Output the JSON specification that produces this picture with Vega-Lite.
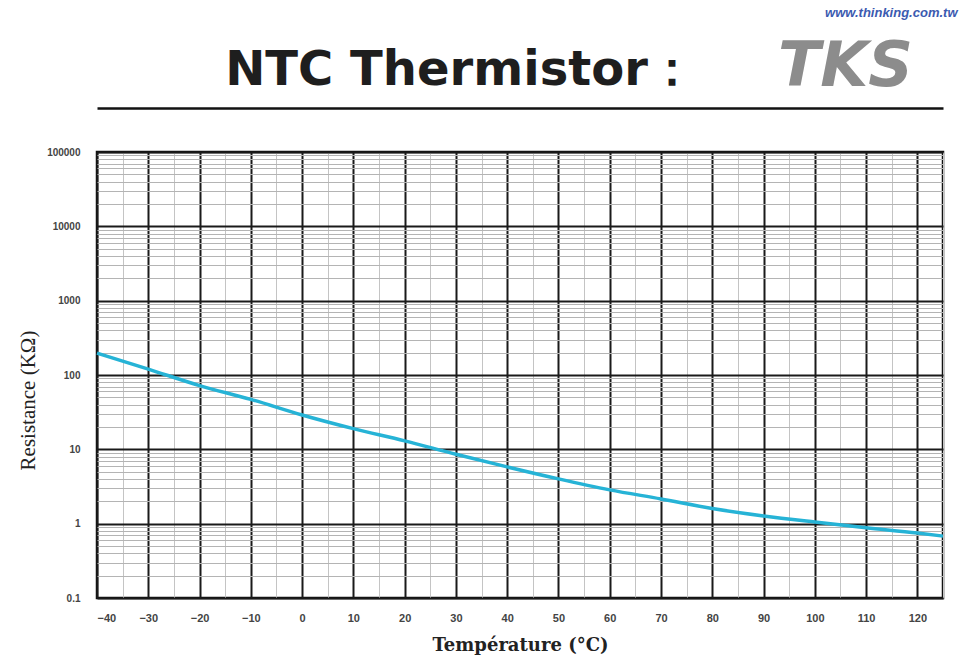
{
  "$schema": "https://vega.github.io/schema/vega-lite/v6.json",
  "width": 846,
  "height": 446,
  "autosize": "none",
  "padding": {"left": 97, "top": 152, "right": 24, "bottom": 62},
  "background": "white",
  "config": {"view": {"stroke": "#111", "strokeWidth": 2.5}},
  "data": {"values": [
    {"temp": -40, "res": 197},
    {"temp": -30, "res": 120},
    {"temp": -20, "res": 72},
    {"temp": -10, "res": 47},
    {"temp": 0, "res": 29},
    {"temp": 10, "res": 19},
    {"temp": 20, "res": 13},
    {"temp": 30, "res": 8.6},
    {"temp": 40, "res": 5.8},
    {"temp": 50, "res": 4.0},
    {"temp": 60, "res": 2.85},
    {"temp": 70, "res": 2.15},
    {"temp": 80, "res": 1.6},
    {"temp": 90, "res": 1.27},
    {"temp": 100, "res": 1.05},
    {"temp": 110, "res": 0.88},
    {"temp": 120, "res": 0.75},
    {"temp": 125, "res": 0.68}
  ]},
  "layer": [
    {
      "mark": {"type": "line", "opacity": 0},
      "encoding": {
        "x": {"field": "temp", "type": "quantitative",
          "scale": {"domain": [-40, 125], "nice": false, "zero": false},
          "axis": {"orient": "bottom", "values": [-35, -25, -15, -5, 5, 15, 25, 35, 45, 55, 65, 75, 85, 95, 105, 115, 125],
            "grid": true, "gridColor": "#c4c4c4", "gridWidth": 1, "labels": false, "ticks": false, "domain": false, "title": null}},
        "y": {"field": "res", "type": "quantitative",
          "scale": {"type": "log", "domain": [0.1, 100000], "nice": false},
          "axis": {"orient": "left", "values": [0.2,0.3,0.4,0.5,0.6,0.7,0.8,0.9,2,3,4,5,6,7,8,9,20,30,40,50,60,70,80,90,200,300,400,500,600,700,800,900,2000,3000,4000,5000,6000,7000,8000,9000,20000,30000,40000,50000,60000,70000,80000,90000],
            "grid": true, "gridColor": "#b4b4b4", "gridWidth": 1, "labels": false, "ticks": false, "domain": false, "title": null}}
      }
    },
    {
      "mark": {"type": "line", "opacity": 0},
      "encoding": {
        "x": {"field": "temp", "type": "quantitative",
          "scale": {"domain": [-40, 125], "nice": false, "zero": false},
          "axis": {"orient": "top", "offset": 44, "domain": true, "domainColor": "#111", "domainWidth": 2.5,
            "labels": false, "ticks": false, "grid": false,
            "title": "NTC Thermistor：", "titleFont": "DejaVu Sans", "titleFontSize": 48, "titleFontWeight": "bold",
            "titleColor": "#1e1e1e", "titleX": 363, "titleY": -38, "titleAlign": "center", "titleBaseline": "middle", "titleAngle": 0}},
        "y": {"field": "res", "type": "quantitative",
          "scale": {"type": "log", "domain": [0.1, 100000], "nice": false}, "axis": null}
      }
    },
    {
      "mark": {"type": "line", "opacity": 0},
      "encoding": {
        "x": {"field": "temp", "type": "quantitative",
          "scale": {"domain": [-40, 125], "nice": false, "zero": false},
          "axis": {"orient": "top", "offset": 44, "domain": false, "labels": false, "ticks": false, "grid": false,
            "title": "TKS", "titleFont": "DejaVu Sans", "titleFontSize": 62, "titleFontWeight": "bold", "titleFontStyle": "italic",
            "titleColor": "#8c8c8c", "titleX": 748, "titleY": -42, "titleAlign": "center", "titleBaseline": "middle", "titleAngle": 0}},
        "y": {"field": "res", "type": "quantitative",
          "scale": {"type": "log", "domain": [0.1, 100000], "nice": false}, "axis": null}
      }
    },
    {
      "mark": {"type": "line", "opacity": 0},
      "encoding": {
        "x": {"field": "temp", "type": "quantitative",
          "scale": {"domain": [-40, 125], "nice": false, "zero": false},
          "axis": {"orient": "top", "offset": 44, "domain": false, "labels": false, "ticks": false, "grid": false,
            "title": "www.thinking.com.tw", "titleFont": "Liberation Sans", "titleFontSize": 13, "titleFontWeight": "bold", "titleFontStyle": "italic",
            "titleColor": "#3b5ab0", "titleX": 860, "titleY": -96, "titleAlign": "right", "titleBaseline": "middle", "titleAngle": 0}},
        "y": {"field": "res", "type": "quantitative",
          "scale": {"type": "log", "domain": [0.1, 100000], "nice": false}, "axis": null}
      }
    },
    {
      "mark": {"type": "line", "color": "#26b3d6", "strokeWidth": 3.5, "interpolate": "monotone"},
      "encoding": {
        "x": {"field": "temp", "type": "quantitative",
          "scale": {"domain": [-40, 125], "nice": false, "zero": false},
          "axis": {"orient": "bottom", "values": [-40, -30, -20, -10, 0, 10, 20, 30, 40, 50, 60, 70, 80, 90, 100, 110, 120],
            "grid": true, "gridColor": "#1a1a1a", "gridWidth": 2, "ticks": false, "domain": false,
            "labelPadding": 14, "labelFont": "Liberation Sans", "labelFontSize": 11, "labelFontWeight": "bold", "labelColor": "#444",
            "title": "Température (°C)", "titleFont": "DejaVu Serif", "titleFontSize": 18, "titleFontWeight": "bold", "titleColor": "#222",
            "titleX": 423, "titleY": 47, "titleAlign": "center", "titleBaseline": "middle"}},
        "y": {"field": "res", "type": "quantitative",
          "scale": {"type": "log", "domain": [0.1, 100000], "nice": false},
          "axis": {"orient": "left", "values": [0.1, 1, 10, 100, 1000, 10000, 100000], "format": "~g",
            "grid": true, "gridColor": "#1a1a1a", "gridWidth": 2, "ticks": false, "domain": false,
            "labelPadding": 17, "labelFont": "Liberation Sans", "labelFontSize": 10, "labelFontWeight": "bold", "labelColor": "#444",
            "title": "Resistance (KΩ)", "titleFont": "Liberation Serif", "titleFontSize": 21, "titleFontWeight": "normal", "titleColor": "#222",
            "titleX": -69, "titleY": 248, "titleAlign": "center", "titleBaseline": "middle", "titleAngle": -90}}
      }
    }
  ],
  "resolve": {"axis": {"x": "independent", "y": "independent"}}
}
